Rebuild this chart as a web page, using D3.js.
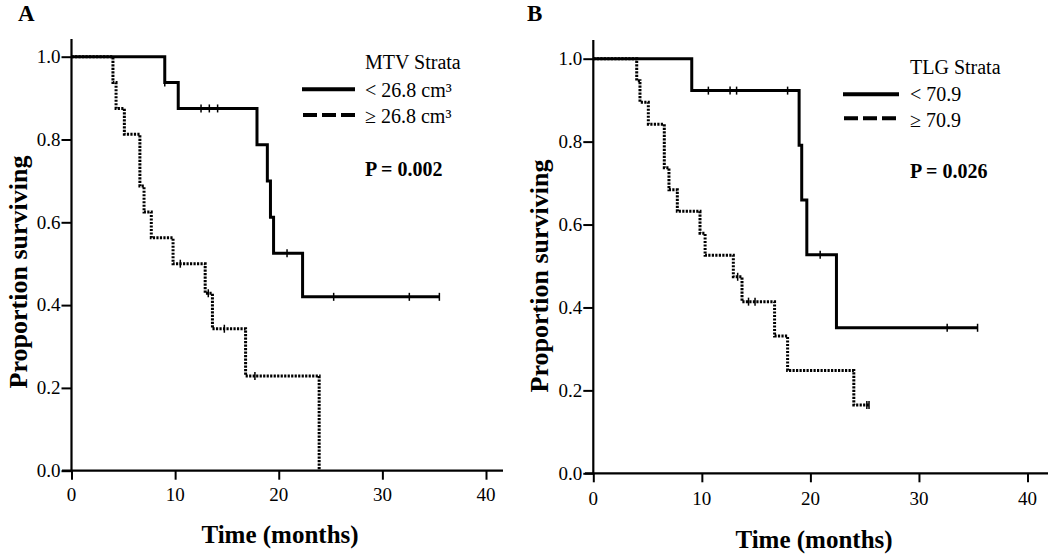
<!DOCTYPE html>
<html>
<head>
<meta charset="utf-8">
<script src="https://cdn.jsdelivr.net/npm/d3@7"></script>
<style>
  html, body { margin: 0; padding: 0; background: #fff; }
  svg { display: block; }
  text { font-family: "Liberation Serif", "Times New Roman", serif; fill: #000; }
</style>
</head>
<body>
<svg id="chart" width="1050" height="555"></svg>
<script>
// ---------------- DATA ----------------
const xTicks = [0, 10, 20, 30, 40];
const yTicks = [0, 0.2, 0.4, 0.6, 0.8, 1.0];

// Panel A: MTV strata
const mtvLowTimes = [0, 9.0, 10.3, 17.9, 18.9, 19.2, 19.5, 22.3, 35.5];
const mtvLowSurv  = [1, 0.9375, 0.875, 0.7875, 0.7, 0.6125, 0.525, 0.42, 0.42];
const mtvLowCensorT = [9.0, 12.5, 13.3, 14.1, 20.8, 25.3, 32.6, 35.5];
const mtvLowCensorS = [0.9375, 0.875, 0.875, 0.875, 0.525, 0.42, 0.42, 0.42];

const mtvHighTimes = [0, 4.0, 4.3, 5.1, 6.6, 7.0, 7.7, 9.8, 12.9, 13.6, 16.8, 23.9];
const mtvHighSurv  = [1, 0.9375, 0.875, 0.8125, 0.6875, 0.625, 0.5625, 0.5, 0.4286, 0.3429, 0.2286, 0];
const mtvHighCensorT = [10.5, 13.2, 14.75, 17.7];
const mtvHighCensorS = [0.5, 0.4286, 0.3429, 0.2286];

// Panel B: TLG strata
const tlgLowTimes = [0, 9.07, 18.96, 19.2, 19.67, 22.4, 35.4];
const tlgLowSurv  = [1, 0.923, 0.791, 0.659, 0.527, 0.351, 0.351];
const tlgLowCensorT = [10.6, 12.6, 13.2, 17.9, 20.9, 32.6, 35.4];
const tlgLowCensorS = [0.923, 0.923, 0.923, 0.923, 0.527, 0.351, 0.351];

const tlgHighTimes = [0, 4.0, 4.3, 5.07, 6.54, 6.97, 7.74, 9.83, 10.3, 12.9, 13.7, 16.7, 17.9, 24.0, 25.4];
const tlgHighSurv  = [1, 0.947, 0.895, 0.842, 0.737, 0.684, 0.632, 0.579, 0.526, 0.474, 0.414, 0.331, 0.248, 0.165, 0.165];
const tlgHighCensorT = [13.3, 14.3, 14.9, 25.2, 25.4];
const tlgHighCensorS = [0.474, 0.414, 0.414, 0.165, 0.165];

const panelLetters = ["A", "B"];
const legendTitles = ["MTV Strata", "TLG Strata"];
const legendLowLabels = ["< 26.8 cm³", "< 70.9"];
const legendHighLabels = ["≥ 26.8 cm³", "≥ 70.9"];
const pValues = ["P = 0.002", "P = 0.026"];
const xTitle = "Time (months)";
const yTitle = "Proportion surviving";

// ---------------- LAYOUT ----------------
const layouts = [
  { xr: [71.5, 486], yr: [470.7, 56.7], axL: 62, axR: 503, axT: 39, xLabY: 30,
    letter: [18, 21], yTitle: [26.5, 272], xTitle: [280, 543],
    leg: { x: 365, title: 69, r1: 97, r2: 123, l1: 89.3, l2: 115, lx0: 302, lx1: 355, p: 176 } },
  { xr: [593.3, 1027.5], yr: [473.3, 58.7], axL: 585, axR: 1048, axT: 40, xLabY: 32,
    letter: [527, 21], yTitle: [548, 276], xTitle: [814, 548],
    leg: { x: 910, title: 74, r1: 101, r2: 127, l1: 94.3, l2: 118.3, lx0: 843, lx1: 899, p: 178 } }
];

const series = [
  { low: [mtvLowTimes, mtvLowSurv, mtvLowCensorT, mtvLowCensorS],
    high: [mtvHighTimes, mtvHighSurv, mtvHighCensorT, mtvHighCensorS] },
  { low: [tlgLowTimes, tlgLowSurv, tlgLowCensorT, tlgLowCensorS],
    high: [tlgHighTimes, tlgHighSurv, tlgHighCensorT, tlgHighCensorS] }
];

const svg = d3.select("#chart");
const TICK_FONT = "19px";

layouts.forEach((L, i) => {
  const g = svg.append("g");
  const x = d3.scaleLinear().domain([0, 40]).range(L.xr);
  const y = d3.scaleLinear().domain([0, 1]).range(L.yr);

  // X axis (ticks via d3.axis, labels drawn from the same scale)
  const xa = g.append("g").attr("transform", `translate(0,${y(0)})`)
    .call(d3.axisBottom(x).tickValues(xTicks).tickSize(9).tickSizeOuter(0).tickFormat(""));
  xa.select(".domain").remove();
  xa.selectAll(".tick line").attr("stroke", "#000").attr("stroke-width", 2);
  xa.selectAll(".tick text").remove();
  g.selectAll(null).data(xTicks).enter().append("text")
    .attr("x", d => x(d)).attr("y", y(0) + L.xLabY)
    .attr("text-anchor", "middle")
    .attr("font-family", "Liberation Serif, serif")
    .style("font-size", TICK_FONT)
    .text(d3.format("d"));
  g.append("line").attr("x1", L.axL).attr("x2", L.axR).attr("y1", y(0)).attr("y2", y(0))
    .attr("stroke", "#000").attr("stroke-width", 2.2);

  // Y axis
  const ya = g.append("g").attr("transform", `translate(${x(0)},0)`)
    .call(d3.axisLeft(y).tickValues(yTicks).tickSize(10).tickSizeOuter(0).tickFormat(""));
  ya.select(".domain").remove();
  ya.selectAll(".tick line").attr("stroke", "#000").attr("stroke-width", 2);
  ya.selectAll(".tick text").remove();
  g.selectAll(null).data(yTicks).enter().append("text")
    .attr("x", x(0) - 11).attr("y", d => y(d)).attr("dy", "0.33em")
    .attr("text-anchor", "end")
    .attr("font-family", "Liberation Serif, serif")
    .style("font-size", TICK_FONT)
    .text(d3.format(".1f"));
  g.append("line").attr("x1", x(0)).attr("x2", x(0)).attr("y1", y(0) + 1).attr("y2", L.axT)
    .attr("stroke", "#000").attr("stroke-width", 2.2);

  const line = d3.line().curve(d3.curveStepAfter).x(d => x(d[0])).y(d => y(d[1]));

  const drawCurve = (arr, dotted) => {
    const pts = arr[0].map((t, k) => [t, arr[1][k]]);
    g.append("path").attr("d", line(pts)).attr("fill", "none").attr("stroke", "#000")
      .attr("stroke-width", 3)
      .attr("stroke-dasharray", dotted ? "2.2,1.3" : null);
    arr[2].forEach((t, k) => {
      g.append("line").attr("x1", x(t)).attr("x2", x(t))
        .attr("y1", y(arr[3][k]) - 4).attr("y2", y(arr[3][k]) + 4)
        .attr("stroke", "#000").attr("stroke-width", 1.5);
    });
  };
  drawCurve(series[i].low, false);
  drawCurve(series[i].high, true);

  // Panel letter
  g.append("text").attr("x", L.letter[0]).attr("y", L.letter[1])
    .style("font-size", "23px").style("font-weight", "bold").text(panelLetters[i]);

  // Axis titles
  g.append("text").attr("transform", `translate(${L.yTitle[0]},${L.yTitle[1]}) rotate(-90)`)
    .attr("text-anchor", "middle").style("font-size", "26px").style("font-weight", "bold").text(yTitle);
  g.append("text").attr("x", L.xTitle[0]).attr("y", L.xTitle[1])
    .attr("text-anchor", "middle").style("font-size", "25px").style("font-weight", "bold").text(xTitle);

  // Legend
  const lg = L.leg;
  g.append("text").attr("x", lg.x).attr("y", lg.title).style("font-size", "20px").text(legendTitles[i]);
  g.append("line").attr("x1", lg.lx0).attr("x2", lg.lx1).attr("y1", lg.l1).attr("y2", lg.l1)
    .attr("stroke", "#000").attr("stroke-width", 4);
  g.append("line").attr("x1", lg.lx0 + 1).attr("x2", lg.lx1).attr("y1", lg.l2).attr("y2", lg.l2)
    .attr("stroke", "#000").attr("stroke-width", 4).attr("stroke-dasharray", "14,5");
  g.append("text").attr("x", lg.x).attr("y", lg.r1).style("font-size", "20px").text(legendLowLabels[i]);
  g.append("text").attr("x", lg.x).attr("y", lg.r2).style("font-size", "20px").text(legendHighLabels[i]);
  g.append("text").attr("x", lg.x).attr("y", lg.p).style("font-size", "20px").style("font-weight", "bold").text(pValues[i]);
});
</script>
</body>
</html>
